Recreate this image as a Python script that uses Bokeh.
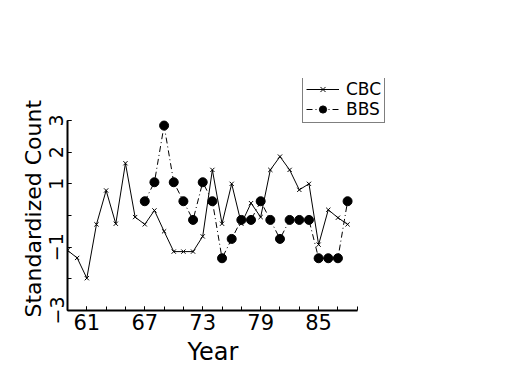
from bokeh.plotting import figure
from bokeh.models import FixedTicker, Legend, LegendItem, Range1d, Title
from bokeh.embed import file_html
from bokeh.resources import INLINE

years = list(range(59, 89))
cbc = [-1.1, -1.34, -1.98, -0.28, 0.79, -0.26, 1.65, -0.05, -0.28, 0.16,
       -0.5, -1.14, -1.14, -1.14, -0.66, 1.44, -0.26, 1.0, -0.26, 0.39,
       -0.05, 1.44, 1.86, 1.44, 0.81, 1.0, -0.92, 0.18, -0.07, -0.28]
bbs_years = list(range(67, 89))
bbs = [0.45, 1.05, 2.84, 1.05, 0.45, -0.14, 1.05, 0.45, -1.35, -0.74,
       -0.14, -0.14, 0.45, -0.14, -0.74, -0.14, -0.14, -0.14, -1.35, -1.35,
       -1.35, 0.45]

x_major = [61, 67, 73, 79, 85]
x_minor = list(range(59, 90, 2))
y_major = [3, 2, 1, -1, -3]
y_minor = [-3, -2, -1, 0, 1, 2, 3]
y_labels = {3: "3", 2: "2", 1: "1", -1: "\u22121", -3: "\u22123"}

FONT = "DejaVu Sans"

# frame extends beyond the axes so that the legend box (which sits above the
# data area) is not clipped; axes are bounded to the data limits
p = figure(width=525, height=375, output_backend="svg", toolbar_location=None,
           x_range=Range1d(59, 92.65), y_range=Range1d(-3, 4.326),
           min_border_left=67, min_border_right=133, min_border_top=78,
           min_border_bottom=65)
p.outline_line_color = None
p.xgrid.visible = False
p.ygrid.visible = False
p.background_fill_color = "white"
p.border_fill_color = "white"

for ax in (p.xaxis[0], p.yaxis[0]):
    ax.axis_line_width = 2
    ax.axis_line_color = "black"
    ax.major_tick_in = 4
    ax.major_tick_out = 0
    ax.minor_tick_in = 4
    ax.minor_tick_out = 0
    ax.major_tick_line_color = "black"
    ax.minor_tick_line_color = "black"
    ax.major_label_text_font = FONT
    ax.major_label_text_color = "black"

p.xaxis.bounds = (59, 89)
p.xaxis.ticker = FixedTicker(ticks=x_major, minor_ticks=x_minor)
p.xaxis.major_label_text_font_size = "21px"
p.xaxis.major_label_standoff = 3

p.yaxis.bounds = (-3, 3)
p.yaxis.ticker = FixedTicker(ticks=y_major, minor_ticks=y_minor)
p.yaxis.major_label_overrides = y_labels
p.yaxis.major_label_orientation = "vertical"
p.yaxis.major_label_text_font_size = "19px"
p.yaxis.major_label_standoff = 4

# axis titles, placed under / beside the bounded axes rather than the wider frame
xlab = Title(text="Year", align="left", offset=120, text_font=FONT,
             text_font_size="24px", text_font_style="normal",
             text_color="black", standoff=7)
p.add_layout(xlab, "below")
ylab = Title(text="Standardized Count", align="left", offset=-7,
             text_font=FONT, text_font_size="22px", text_font_style="normal",
             text_color="black", standoff=2)
p.add_layout(ylab, "left")

l1 = p.line(years, cbc, line_color="black", line_width=1)
m1 = p.scatter(years, cbc, marker="x", size=6, line_color="black", line_width=1)
l2 = p.line(bbs_years, bbs, line_color="black", line_width=1, line_dash="6 3 1 3")
m2 = p.scatter(bbs_years, bbs, marker="circle", size=9, fill_color="black",
               line_color="black")

legend = Legend(items=[LegendItem(label="CBC", renderers=[l1, m1]),
                       LegendItem(label="BBS", renderers=[l2, m2])],
                location=(235, 187))
legend.label_text_font = FONT
legend.label_text_font_size = "17px"
legend.label_text_color = "black"
legend.glyph_width = 33
legend.glyph_height = 18
legend.label_standoff = 7
legend.padding = 3
legend.spacing = 0
legend.margin = 0
legend.border_line_color = "black"
legend.border_line_width = 1
legend.background_fill_color = "white"
legend.background_fill_alpha = 1
p.add_layout(legend)

open("out.html", "w").write(file_html(p, INLINE))
